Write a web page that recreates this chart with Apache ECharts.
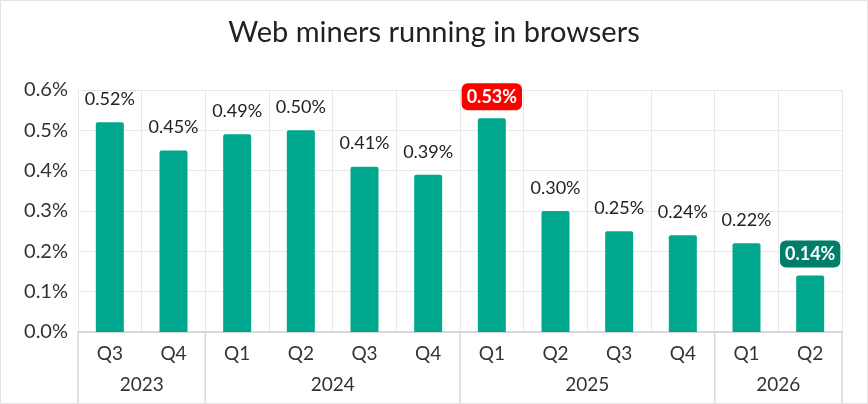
<!DOCTYPE html>
<html>
<head>
<meta charset="utf-8">
<script src="https://cdn.jsdelivr.net/npm/echarts@6/dist/echarts.min.js"></script>
<style>
  html, body { margin: 0; padding: 0; background: #fff; }
  #chart { width: 868px; height: 404px; }
</style>
</head>
<body>
<div id="chart"></div>
<script>
// quarters along the x axis
var quarters = ['Q3', 'Q4', 'Q1', 'Q2', 'Q3', 'Q4', 'Q1', 'Q2', 'Q3', 'Q4', 'Q1', 'Q2'];
// share of users, %
var shares = [0.52, 0.45, 0.49, 0.50, 0.41, 0.39, 0.53, 0.30, 0.25, 0.24, 0.22, 0.14];
// year groups under the quarters
var years = ['2023', '2024', '2025', '2026'];
var yearSpans = [2, 4, 4, 2];

var GREEN = '#00a88e';
var FONT = 'Lato, "Noto Sans", sans-serif';

var chart = echarts.init(document.getElementById('chart'));

function labelFor(i) {
  // peak gets red badge, last quarter a dark green one
  if (i === 6) {
    return { backgroundColor: '#ff0000', color: '#fff', fontWeight: 'bold', padding: [5, 5, 4, 5], borderRadius: 6, distance: 8 };
  }
  if (i === shares.length - 1) {
    return { backgroundColor: '#007e69', color: '#fff', fontWeight: 'bold', padding: [5, 5, 4, 5], borderRadius: 6, distance: 8 };
  }
  return {};
}

var barData = shares.map(function (v, i) {
  return { value: v, label: labelFor(i) };
});

chart.setOption({
  animation: false,
  title: {
    text: 'Web miners running in browsers',
    left: 'center',
    top: 13,
    textStyle: { fontFamily: FONT, fontSize: 29, fontWeight: 'normal', color: '#222' }
  },
  grid: { left: 78, right: 26, top: 90, bottom: 72 },
  xAxis: {
    type: 'category',
    data: quarters,
    axisLine: { lineStyle: { color: '#cfcfcf', width: 1.5 } },
    axisTick: { alignWithLabel: true, length: 6, lineStyle: { color: '#cfcfcf' } },
    axisLabel: { fontFamily: FONT, fontSize: 19, color: '#333', margin: 12 },
    splitLine: { show: true, lineStyle: { color: '#e8e8e8' } }
  },
  yAxis: {
    type: 'value',
    min: 0,
    max: 0.6,
    interval: 0.1,
    axisLine: { show: false },
    axisTick: { show: false },
    axisLabel: {
      fontFamily: FONT, fontSize: 20, color: '#333', margin: 10,
      formatter: function (v) { return v.toFixed(1) + '%'; }
    },
    splitLine: { lineStyle: { color: '#e8e8e8' } }
  },
  series: [{
    type: 'bar',
    data: barData,
    barWidth: 28,
    itemStyle: { color: GREEN, borderRadius: [2, 2, 0, 0] },
    label: {
      show: true,
      position: 'top',
      distance: 14,
      fontFamily: FONT,
      fontSize: 18,
      color: '#222',
      formatter: function (p) { return p.value.toFixed(2) + '%'; }
    }
  }]
});

// year band under the quarter labels, placed through the category axis scale
function drawYears() {
  var x0 = chart.convertToPixel({ xAxisIndex: 0 }, 0);
  var x1 = chart.convertToPixel({ xAxisIndex: 0 }, 1);
  var step = x1 - x0;
  var axisY = chart.convertToPixel({ yAxisIndex: 0 }, 0);
  var bottom = 404;
  var els = [];
  var start = 0;
  var edge = x0 - step / 2;
  els.push({ type: 'line', shape: { x1: edge, y1: axisY, x2: edge, y2: bottom }, style: { stroke: '#d9d9d9', lineWidth: 1.5 } });
  years.forEach(function (y, k) {
    var left = x0 + (start - 0.5) * step;
    var right = left + yearSpans[k] * step;
    els.push({ type: 'line', shape: { x1: right, y1: axisY, x2: right, y2: bottom }, style: { stroke: '#d9d9d9', lineWidth: 1.5 } });
    els.push({
      type: 'text',
      x: (left + right) / 2,
      y: 385,
      style: { text: y, fontFamily: FONT, fontSize: 19, fill: '#333', align: 'center', verticalAlign: 'middle' }
    });
    start += yearSpans[k];
  });
  // thin frame round the whole picture
  els.push({ type: 'rect', shape: { x: 0.5, y: 0.5, width: 867, height: 403 }, style: { fill: 'none', stroke: '#e3e3e3', lineWidth: 1 } });
  chart.setOption({ graphic: els });
}
drawYears();
</script>
</body>
</html>
